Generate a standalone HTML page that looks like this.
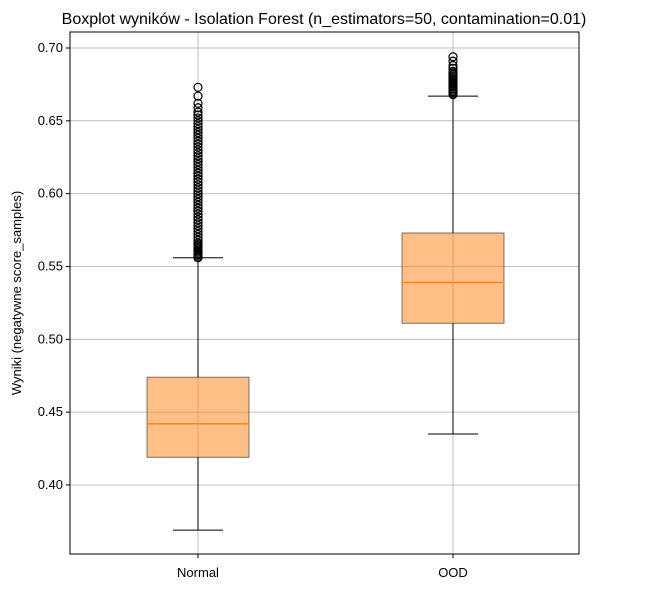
<!DOCTYPE html>
<html><head><meta charset="utf-8"><style>
body{margin:0;background:#fff;font-family:"Liberation Sans",sans-serif}
</style></head><body>
<svg id="c" width="647" height="589" xmlns="http://www.w3.org/2000/svg" font-family="Liberation Sans, sans-serif"></svg>
<script>
const categories=["Normal","OOD"];
const whiskerLow=[0.369,0.435];
const q1=[0.419,0.511];
const median=[0.442,0.539];
const q3=[0.474,0.573];
const whiskerHigh=[0.556,0.667];
const fliersNormal=[0.556,0.557,0.558,0.559,0.560,0.561,0.562,0.563,0.564,0.565,0.566,0.568,0.570,0.572,0.574,0.576,0.578,0.580,0.582,0.584,0.586,0.588,0.590,0.592,0.594,0.596,0.598,0.600,0.602,0.604,0.606,0.608,0.610,0.612,0.614,0.616,0.618,0.620,0.622,0.624,0.626,0.628,0.630,0.632,0.634,0.636,0.638,0.640,0.642,0.644,0.646,0.648,0.650,0.652,0.654,0.656,0.659,0.662,0.667,0.673];
const fliersOOD=[0.668,0.669,0.670,0.671,0.672,0.673,0.674,0.675,0.676,0.677,0.678,0.679,0.680,0.681,0.682,0.683,0.684,0.686,0.688,0.691,0.694];
const yTicks=[0.40,0.45,0.50,0.55,0.60,0.65,0.70];
const L=70,R=579,T=32,B=554;
const y=v=>48+(0.70-v)/0.05*72.83;
const x=i=>198+i*255;
const s=document.getElementById('c');
const NS="http://www.w3.org/2000/svg";
function el(t,a,p){const e=document.createElementNS(NS,t);for(const k in a)e.setAttribute(k,a[k]);(p||s).appendChild(e);return e;}
yTicks.forEach(v=>{const g=el('line',{x1:L,x2:R,y1:y(v),y2:y(v),stroke:'#b0b0b0','stroke-width':0.8});

const t=el('line',{x1:L-4,x2:L,y1:y(v),y2:y(v),stroke:'#000'});

const tx=el('text',{x:L-7,y:y(v)+4,'text-anchor':'end','font-size':13});tx.textContent=v.toFixed(2);
});
categories.forEach((c,i)=>{const g=el('line',{x1:x(i),x2:x(i),y1:T,y2:B,stroke:'#b0b0b0','stroke-width':0.8});

const t=el('line',{x1:x(i),x2:x(i),y1:B,y2:B+4,stroke:'#000'});

const tx=el('text',{x:x(i),y:B+23,'text-anchor':'middle','font-size':13});tx.textContent=c;
});
const fl=[fliersNormal,fliersOOD];
categories.forEach((c,i)=>{const cx=x(i);
const g=el('g',{});
el('line',{x1:cx,x2:cx,y1:y(whiskerLow[i]),y2:y(q1[i]),stroke:'#000'},g);
el('line',{x1:cx,x2:cx,y1:y(q3[i]),y2:y(whiskerHigh[i]),stroke:'#000'},g);
el('line',{x1:cx-25,x2:cx+25,y1:y(whiskerLow[i]),y2:y(whiskerLow[i]),stroke:'#000'},g);
el('line',{x1:cx-25,x2:cx+25,y1:y(whiskerHigh[i]),y2:y(whiskerHigh[i]),stroke:'#000'},g);
el('rect',{x:cx-51,y:y(q3[i]),width:102,height:y(q1[i])-y(q3[i]),fill:'rgba(255,127,14,0.5)',stroke:'rgba(0,0,0,0.5)'},g);
el('line',{x1:cx-51,x2:cx+51,y1:y(median[i]),y2:y(median[i]),stroke:'#ff7f0e','stroke-width':1.3},g);
fl[i].forEach(v=>{const f=el('circle',{cx:cx,cy:y(v),r:4,fill:'none',stroke:'#000','stroke-width':1.2},g);
});});
const fr=el('rect',{x:L,y:T,width:R-L,height:B-T,fill:'none',stroke:'#000'});

const ti=el('text',{x:324,y:24,'text-anchor':'middle','font-size':16});ti.textContent='Boxplot wyników - Isolation Forest (n_estimators=50, contamination=0.01)';

const yl=el('text',{x:21,y:293,'text-anchor':'middle','font-size':13,transform:'rotate(-90 21 293)'});yl.textContent='Wyniki (negatywne score_samples)';

</script></body></html>
